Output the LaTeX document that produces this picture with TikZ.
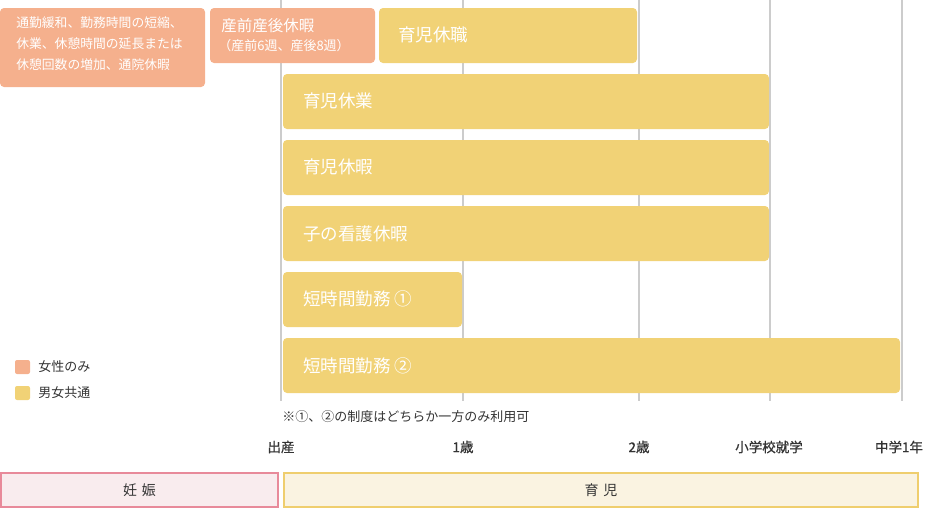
\documentclass[tikz,border=0pt]{standalone}
\usepackage{fontspec}
\setmainfont{Noto Sans CJK JP}
\definecolor{onlyw}{HTML}{F5B08D}
\definecolor{both}{HTML}{F1D276}
\definecolor{gridc}{HTML}{CCCCCC}
\definecolor{txtc}{HTML}{333333}
\definecolor{preg}{HTML}{E88A9A}
\definecolor{pregbg}{HTML}{F9ECEE}
\definecolor{care}{HTML}{EFCE6E}
\definecolor{carebg}{HTML}{FAF3E1}
\tikzset{
  wbar/.style={fill=onlyw, rounded corners=4pt},
  ybar/.style={fill=both, rounded corners=4pt},
  bartext/.style={text=white, font=\fontsize{17.5}{20}\selectfont, anchor=west, inner sep=0pt},
  smalltext/.style={text=white, font=\fontsize{12.8}{21}\selectfont, anchor=north west, inner sep=0pt, align=left},
  axistext/.style={text=txtc, font=\fontsize{13.5}{15}\selectfont\addfontfeature{FakeBold=0.8}, inner sep=0pt},
  legtext/.style={text=txtc, font=\fontsize{13}{15}\selectfont, anchor=west, inner sep=0pt},
  periodtext/.style={text=txtc, font=\fontsize{14}{16}\selectfont},
}
\begin{document}
\begin{tikzpicture}[x=1pt, y=-1pt, line width=0.6pt]
  \useasboundingbox (0,0) rectangle (925,509);
  % grid lines
  \foreach \gx in {281,463,639,770,902}
    \draw[gridc, line width=2pt] (\gx,0) -- (\gx,401);
  % women only
  \fill[wbar] (0,8) rectangle (205,87);
  \node[smalltext] (ease) at (16,16) {通勤緩和、勤務時間の短縮、\\休業、休憩時間の延長または\\休憩回数の増加、通院休暇};
  \fill[wbar] (210,8) rectangle (375,63);
  \node[bartext, font=\fontsize{15.5}{17}\selectfont] (birth) at (221,26) {産前産後休暇};
  \node[bartext, font=\fontsize{13}{15}\selectfont] (birthsub) at (218,46) {（産前6週、産後8週）};
  % both
  \fill[ybar] (379,8) rectangle (637,63);
  \node[bartext] (kyushoku) at (398,35) {育児休職};
  \fill[ybar] (283,74) rectangle (769,129);
  \node[bartext] (kyugyo) at (303,101) {育児休業};
  \fill[ybar] (283,140) rectangle (769,195);
  \node[bartext] (kyuka) at (303,167) {育児休暇};
  \fill[ybar] (283,206) rectangle (769,261);
  \node[bartext] (kango) at (303,234) {子の看護休暇};
  \fill[ybar] (283,272) rectangle (462,327);
  \node[bartext] (short1) at (303,299) {短時間勤務 ①};
  \fill[ybar] (283,338) rectangle (900,393);
  \node[bartext] (short2) at (303,366) {短時間勤務 ②};
  % legend
  \fill[onlyw, rounded corners=2pt] (15,360) rectangle (30,374);
  \node[legtext] (legw) at (38,367) {女性のみ};
  \fill[both, rounded corners=2pt] (15,386) rectangle (30,400);
  \node[legtext] (legb) at (38,393) {男女共通};
  % note
  \node[legtext] (note) at (282,417) {※①、②の制度はどちらか一方のみ利用可};
  % axis
  \node[axistext] (t0) at (281,447) {出産};
  \node[axistext] (t1) at (463,447) {1歳};
  \node[axistext] (t2) at (639,447) {2歳};
  \node[axistext] (t3) at (769,447) {小学校就学};
  \node[axistext] (t4) at (899,447) {中学1年};
  % periods
  \draw[preg, fill=pregbg, line width=1.5pt] (1,473) rectangle (278,507);
  \node[periodtext] (ninshin) at (139.5,490) {妊\hspace{0.35em}娠};
  \draw[care, fill=carebg, line width=1.5pt] (284,473) rectangle (918,507);
  \node[periodtext] (ikuji) at (601,490) {育\hspace{0.35em}児};
\end{tikzpicture}
\end{document}
